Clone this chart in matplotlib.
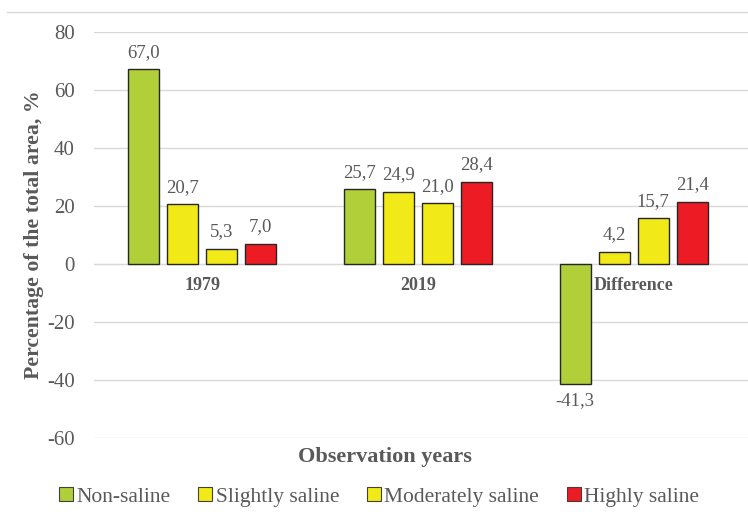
import matplotlib.pyplot as plt
from matplotlib.lines import Line2D
from matplotlib.patches import Patch
import numpy as np

plt.rcParams['font.family'] = ['Liberation Serif', 'DejaVu Serif']
plt.rcParams['axes.unicode_minus'] = False

groups = ["1979", "2019", "Difference"]
series = ["Non-saline", "Slightly saline", "Moderately saline", "Highly saline"]
colors = ["#b0cf38", "#f2ea18", "#f2ea18", "#ed1c24"]
non_saline = [67.0, 25.7, -41.3]
slightly = [20.7, 24.9, 4.2]
moderately = [5.3, 21.0, 15.7]
highly = [7.0, 28.4, 21.4]
values = [non_saline, slightly, moderately, highly]

gray = "#595959"

fig = plt.figure(figsize=(7.48, 5.27), dpi=100)
ax = fig.add_axes([0.126, 0.168, 0.874, 0.772])

x = np.arange(len(groups))
w = 0.144
step = 0.181
for i, (vals, c) in enumerate(zip(values, colors)):
    pos = x + (i - 1.5) * step
    ax.bar(pos, vals, width=w, color=c, edgecolor="#262626", linewidth=1.0, zorder=3)
    for p, v in zip(pos, vals):
        txt = f"{v:.1f}".replace(".", ",")
        if v >= 0:
            ax.annotate(txt, (p, v), xytext=(0, 6), textcoords="offset points",
                        ha="center", va="bottom", fontsize=13.5, color=gray)
        else:
            ax.annotate(txt, (p, v), xytext=(0, -6), textcoords="offset points",
                        ha="center", va="top", fontsize=13.5, color=gray)

ax.set_ylim(-60, 80)
ax.set_yticks(range(-60, 81, 20))
ax.set_xlim(-0.5, 2.53)
ax.grid(axis="y", color="#d9d9d9", linewidth=1.0, zorder=0)
for s in ["top", "right", "left"]:
    ax.spines[s].set_visible(False)
ax.spines["bottom"].set_position(("data", 0))
ax.spines["bottom"].set_color("#d9d9d9")
ax.spines["bottom"].set_zorder(1)
ax.tick_params(axis="y", length=0, labelsize=15, labelcolor=gray, pad=14)
ax.tick_params(axis="x", length=0, labelsize=13, labelcolor=gray, pad=9)
ax.set_xticks(x)
ax.set_xticklabels(groups, fontweight="bold")

ax.set_ylabel("Percentage of the total area, %", fontsize=15.7, fontweight="bold",
              color=gray, labelpad=2)
fig.text(0.515, 0.133, "Observation years", ha="center", va="center",
         fontsize=16, fontweight="bold", color=gray)

handles = [Patch(facecolor=c, edgecolor="#404040", linewidth=0.8) for c in colors]
fig.legend(handles, series, loc="center", bbox_to_anchor=(0.507, 0.057), ncol=4,
           frameon=False, prop={"family": "Liberation Serif", "size": 15.5},
           labelcolor=gray, handlelength=0.65,
           handleheight=0.65, handletextpad=0.15, columnspacing=1.3)

fig.add_artist(Line2D([0.01, 1.0], [0.977, 0.977], color="#d9d9d9", linewidth=1.0,
                      transform=fig.transFigure))

fig.savefig("out.png", dpi=100)
